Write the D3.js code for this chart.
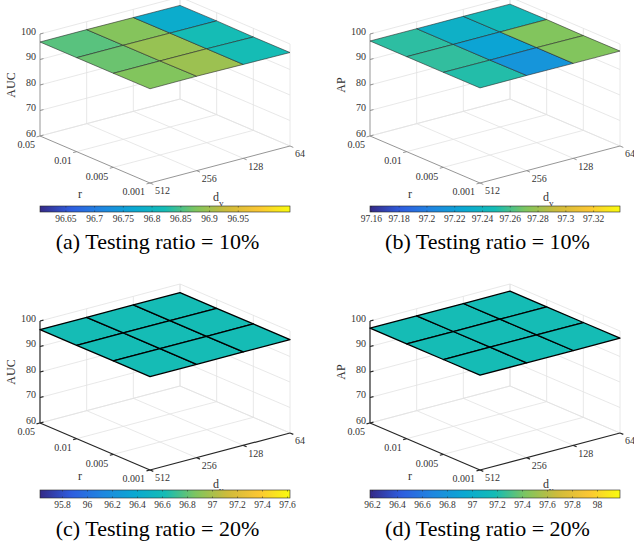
<!DOCTYPE html>
<html><head><meta charset="utf-8">
<script src="https://cdn.jsdelivr.net/npm/d3@7"></script>
<style>body{margin:0;background:#fff} svg{display:block}</style>
</head><body>
<svg id="chart" width="634" height="545"></svg>
<script>
// ---------- data ----------
const rLabels = ["0.05", "0.01", "0.005", "0.001"];
const dLabels = ["512", "256", "128", "64"];
const zTicks = [60, 70, 80, 90, 100];

// value grids: rows = r (0.05 .. 0.001), columns = d_v (512 .. 64)
const aucRatio10 = [
  [96.857, 96.880, 96.780, 96.700],
  [96.866, 96.893, 96.822, 96.780],
  [96.878, 96.896, 96.822, 96.605],
  [96.950, 97.040, 96.830, 96.660]
];
const apRatio10 = [
  [97.254, 97.236, 97.246, 97.200],
  [97.255, 97.224, 97.272, 97.300],
  [97.252, 97.214, 97.272, 97.159],
  [97.280, 97.339, 97.250, 97.230]
];
const aucRatio20 = [
  [96.62, 96.62, 96.62, 96.62],
  [96.62, 96.62, 96.62, 96.62],
  [96.62, 96.62, 96.62, 96.62],
  [96.62, 96.62, 96.62, 96.62]
];
const apRatio20 = [
  [97.18, 97.18, 97.18, 97.18],
  [97.18, 97.18, 97.18, 97.18],
  [97.18, 97.18, 97.18, 97.18],
  [97.18, 97.18, 97.18, 97.18]
];

const cbTicksA = [96.65, 96.7, 96.75, 96.8, 96.85, 96.9, 96.95];
const cbTicksB = [97.16, 97.18, 97.2, 97.22, 97.24, 97.26, 97.28, 97.3, 97.32];
const cbTicksC = [95.8, 96, 96.2, 96.4, 96.6, 96.8, 97, 97.2, 97.4, 97.6];
const cbTicksD = [96.2, 96.4, 96.6, 96.8, 97, 97.2, 97.4, 97.6, 97.8, 98];

const zTitles = ["AUC", "AP", "AUC", "AP"];
const captions = ["(a) Testing ratio = 10%", "(b) Testing ratio = 10%",
                  "(c) Testing ratio = 20%", "(d) Testing ratio = 20%"];

// ---------- colormap (parula-like) ----------
const parulaStops = ["#352a87", "#2f5de0", "#1f86e0", "#0aa8d2", "#15bcb5", "#80c55e", "#cfbb3a", "#fbc634", "#f9fb0e"];
const parula = d3.scaleLinear()
  .domain(d3.range(parulaStops.length).map(i => i / (parulaStops.length - 1)))
  .range(parulaStops).interpolate(d3.interpolateRgb);

const svg = d3.select("#chart");
const defs = svg.append("defs");
const grad = defs.append("linearGradient").attr("id", "parulaGrad");
d3.range(0, 1.0001, 0.02).forEach(t => grad.append("stop").attr("offset", t).attr("stop-color", parula(t)));

const SERIF = "'Liberation Serif','Times New Roman',serif";
const fmt = v => String(+v.toFixed(2));

const panels = [
  {Z: aucRatio10, ticks: cbTicksA, ox: 0,   oy: 0,   bold: false},
  {Z: apRatio10,  ticks: cbTicksB, ox: 330, oy: 0,   bold: false},
  {Z: aucRatio20, ticks: cbTicksC, ox: 0,   oy: 287, bold: true},
  {Z: apRatio20,  ticks: cbTicksD, ox: 330, oy: 287, bold: true}
];

panels.forEach((p, k) => {
  const g = svg.append("g").attr("transform", `translate(${p.ox},${p.oy})`);
  const uS = d3.scalePoint().domain(rLabels).range([0, 1]);
  const vS = d3.scalePoint().domain(dLabels).range([0, 1]);
  const zS = d3.scaleLinear().domain([60, 100]).range([0, 102]);
  const P = (u, v, z) => [40 + 110 * u + 140 * v, 136 + 47 * u - 37 * v - zS(z)];
  const line = (a, b, stroke, w) => g.append("line")
    .attr("x1", a[0]).attr("y1", a[1]).attr("x2", b[0]).attr("y2", b[1])
    .attr("stroke", stroke).attr("stroke-width", w);

  const gridC = "#e2e2e2";
  zTicks.forEach(z => {
    line(P(0, 0, z), P(0, 1, z), gridC, 0.8);
    line(P(0, 1, z), P(1, 1, z), gridC, 0.8);
  });
  dLabels.slice(1).forEach(d => line(P(0, vS(d), 60), P(0, vS(d), 100), gridC, 0.8));
  rLabels.forEach(r => line(P(uS(r), 1, 60), P(uS(r), 1, 100), gridC, 0.8));
  rLabels.slice(0, 3).forEach(r => line(P(uS(r), 0, 60), P(uS(r), 1, 60), gridC, 0.8));
  dLabels.slice(1).forEach(d => line(P(0, vS(d), 60), P(1, vS(d), 60), gridC, 0.8));

  // axes
  const axC = p.bold ? "#262626" : "#8a8a8a";
  const axW = p.bold ? 1.2 : 0.9;
  line(P(0, 0, 60), P(0, 0, 100), axC, axW);
  line(P(0, 0, 60), P(1, 0, 60), axC, axW);
  line(P(1, 0, 60), P(1, 1, 60), axC, axW);
  zTicks.forEach(z => line(P(0, 0, z), P(0, 0.025, z), axC, axW));
  rLabels.forEach(r => line(P(uS(r), 0, 60), P(uS(r), -0.025, 60), axC, axW));
  dLabels.forEach(d => line(P(1, vS(d), 60), P(1.03, vS(d), 60), axC, axW));

  // tick labels
  const tl = g.append("g").attr("font-family", SERIF).attr("font-size", 10).attr("fill", "#333");
  zTicks.forEach(z => {
    const [x, y] = P(0, 0, z);
    tl.append("text").attr("x", x - 4).attr("y", y - 1.5).attr("text-anchor", "end")
      .attr("dominant-baseline", "middle").text(z);
  });
  rLabels.forEach(r => {
    const [x, y] = P(uS(r), 0, 60);
    tl.append("text").attr("x", x - 5).attr("y", y + 10).attr("text-anchor", "end")
      .attr("dominant-baseline", "middle").text(r);
  });
  dLabels.forEach(d => {
    const [x, y] = P(1, vS(d), 60);
    tl.append("text").attr("x", x + 5).attr("y", y + 9).attr("text-anchor", "start")
      .attr("dominant-baseline", "middle").text(d);
  });

  // axis titles
  const at = g.append("g").attr("font-family", SERIF).attr("font-size", 12).attr("fill", "#333");
  at.append("text").attr("transform", "translate(12,85) rotate(-90)").attr("text-anchor", "middle")
    .attr("dominant-baseline", "middle").text(zTitles[k]);
  at.append("text").attr("x", 80).attr("y", p.bold ? 190 : 195).attr("text-anchor", "middle")
    .attr("dominant-baseline", "middle").text("r");
  const dt = at.append("text").attr("x", 213).attr("y", 201).attr("text-anchor", "start");
  dt.append("tspan").text("d");
  dt.append("tspan").attr("font-size", 9).attr("dy", 5).text("v");

  // surface
  const all = p.Z.flat();
  let [mn, mx] = d3.extent(all);
  if (mn === mx) { mn -= 1; mx += 1; }
  const cS = d3.scaleLinear().domain([mn, mx]).range([0, 1]);
  const faces = [];
  for (let i = 0; i < 3; i++) for (let j = 0; j < 3; j++) faces.push([i, j]);
  const edgeC = p.bold ? "#000" : "#2a2a2a";
  const edgeW = p.bold ? 1.3 : 0.6;
  g.append("g").selectAll("polygon").data(faces).join("polygon")
    .attr("points", ([i, j]) => [[i, j], [i + 1, j], [i + 1, j + 1], [i, j + 1]]
      .map(([a, b]) => P(uS(rLabels[a]), vS(dLabels[b]), p.Z[a][b]).join(",")).join(" "))
    .attr("fill", ([i, j]) => parula(cS(p.Z[i][j])))
    .attr("stroke", edgeC).attr("stroke-width", edgeW).attr("stroke-linejoin", "round");

  // colorbar
  const cbY = p.bold ? 490 - 287 : 206;
  const cbH = p.bold ? 8 : 6;
  const xS = d3.scaleLinear().domain([mn, mx]).range([40, 290]);
  g.append("rect").attr("x", 40).attr("y", cbY).attr("width", 250).attr("height", cbH)
    .attr("fill", "url(#parulaGrad)").attr("stroke", "#262626").attr("stroke-width", 0.6);
  p.ticks.forEach(t => {
    const x = xS(t);
    line([x, cbY], [x, cbY + 1.5], "#262626", 0.5);
    line([x, cbY + cbH], [x, cbY + cbH - 1.5], "#262626", 0.5);
    g.append("text").attr("x", x).attr("y", cbY + cbH + 8).attr("text-anchor", "middle")
      .attr("dominant-baseline", "middle").attr("font-family", SERIF).attr("font-size", 9.5)
      .attr("fill", "#333").text(fmt(t));
  });

  // caption
  g.append("text").attr("x", 157.5).attr("y", 249).attr("text-anchor", "middle")
    .attr("font-family", SERIF).attr("font-size", 22).attr("fill", "#000").text(captions[k]);
});
</script>
</body></html>
